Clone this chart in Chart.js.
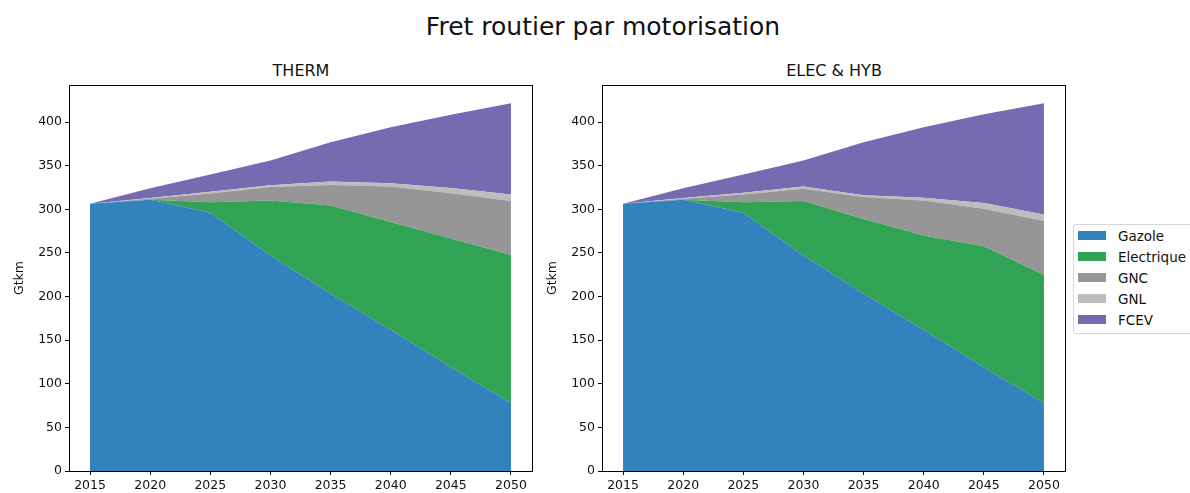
<!DOCTYPE html>
<html>
<head>
<meta charset="utf-8">
<script src="https://cdn.jsdelivr.net/npm/chart.js@4/dist/chart.umd.min.js"></script>
<style>
  body { margin: 0; width: 1190px; height: 493px; background: #fff; position: relative; overflow: hidden;
         font-family: "DejaVu Sans", sans-serif; color: #000; }
  .box { position: absolute; top: 80px; width: 540px; height: 413px; }
  .title { position: absolute; white-space: nowrap; transform: translateX(-50%); color: #111; }
  #legend { position: absolute; left: 1073px; top: 224px; width: 130px; height: 110px; box-sizing: border-box;
            border: 1px solid #d6d6d6; border-radius: 3px; padding: 0 0 0 4px; font-size: 13.5px; color: #111; }
  .item { height: 21px; display: flex; align-items: center; }
  .patch { width: 28px; height: 9px; margin-right: 12px; }
</style>
</head>
<body>
<div class="title" style="left:603px; top:12px; font-size:25px;">Fret routier par motorisation</div>
<div class="title" style="left:301px; top:61px; font-size:16px;">THERM</div>
<div class="title" style="left:834px; top:61px; font-size:16px;">ELEC &amp; HYB</div>
<div class="box" style="left:0px;"><canvas id="therm"></canvas></div>
<div class="box" style="left:533px;"><canvas id="elec"></canvas></div>
<div id="legend"></div>
<script>
const years = [2015, 2020, 2025, 2030, 2035, 2040, 2045, 2050];
const seriesNames = ['Gazole', 'Electrique', 'GNC', 'GNL', 'FCEV'];
const colors = ['#3182bd', '#31a354', '#969696', '#bdbdbd', '#756bb1'];

// THERM scenario (Gtkm)
const thermGazole = [306.5, 311, 296, 247, 203.5, 162, 119, 78];
const thermElec = [0, 0, 12, 63, 101, 123.5, 147.5, 169.5];
const thermGNC = [0, 1, 10, 15.5, 23.5, 40.5, 52, 62];
const thermGNL = [0, 1, 2, 2, 4, 4, 6, 7.5];
const thermFCEV = [0, 11, 20, 28.5, 45, 64, 84, 104.5];

// ELEC & HYB scenario (Gtkm)
const elecGazole = [306.5, 311, 296, 247, 203.5, 162, 119, 78];
const elecElec = [0, 0, 12, 62.5, 85.5, 108, 138.7, 146.6];
const elecGNC = [0, 1, 9, 14, 25, 40, 43, 62];
const elecGNL = [0, 1, 2, 2.7, 2, 3.3, 6.4, 7.4];
const elecFCEV = [0, 11, 21, 29.7, 61, 80.7, 101.8, 127.5];

const yTicks = [0, 50, 100, 150, 200, 250, 300, 350, 400];

Chart.defaults.font.family = '"DejaVu Sans", sans-serif';
Chart.defaults.font.size = 12.5;
Chart.defaults.color = '#111';

const frame = {
  id: 'frame',
  afterDraw(chart) {
    const a = chart.chartArea, ctx = chart.ctx;
    ctx.save();
    ctx.strokeStyle = '#000';
    ctx.lineWidth = 1;
    ctx.strokeRect(Math.round(a.left) + 0.5, Math.round(a.top) + 0.5,
                   Math.round(a.right - a.left), Math.round(a.bottom - a.top));
    ctx.restore();
  }
};

function makeChart(id, values) {
  const datasets = values.map((vals, i) => ({
    label: seriesNames[i],
    data: vals.map((v, k) => ({ x: years[k], y: v })),
    backgroundColor: colors[i],
    borderColor: colors[i],
    borderWidth: 0,
    pointRadius: 0,
    tension: 0,
    fill: i === 0 ? 'origin' : '-1'
  }));
  return new Chart(document.getElementById(id), {
    type: 'line',
    data: { datasets },
    plugins: [frame],
    options: {
      responsive: true,
      maintainAspectRatio: false,
      animation: false,
      layout: { padding: { top: 5, right: 8, left: 0, bottom: 0 } },
      plugins: { legend: { display: false }, tooltip: { enabled: false } },
      scales: {
        x: {
          type: 'linear',
          min: 2013.25,
          max: 2051.75,
          ticks: { stepSize: 5, includeBounds: false, padding: 3, maxRotation: 0,
                   callback: v => String(v) },
          grid: { drawOnChartArea: false, drawTicks: true, tickLength: 4, color: '#000' },
          border: { display: false },
          afterFit: s => { s.height = 22; }
        },
        y: {
          stacked: true,
          min: 0,
          max: 442.5,
          afterBuildTicks: s => { s.ticks = yTicks.map(v => ({ value: v })); },
          ticks: { padding: 3 },
          grid: { drawOnChartArea: false, drawTicks: true, tickLength: 4, color: '#000' },
          border: { display: false },
          title: { display: true, text: 'Gtkm', padding: { top: 12, bottom: 0 } },
          afterFit: s => { s.width = 69; s.paddingTop = 0; s.paddingBottom = 0; }
        }
      }
    }
  });
}

makeChart('therm', [thermGazole, thermElec, thermGNC, thermGNL, thermFCEV]);
makeChart('elec', [elecGazole, elecElec, elecGNC, elecGNL, elecFCEV]);

const legend = document.getElementById('legend');
seriesNames.forEach((name, i) => {
  const row = document.createElement('div');
  row.className = 'item';
  row.innerHTML = '<span class="patch" style="background:' + colors[i] + '"></span><span>' + name + '</span>';
  legend.appendChild(row);
});
</script>
</body>
</html>
